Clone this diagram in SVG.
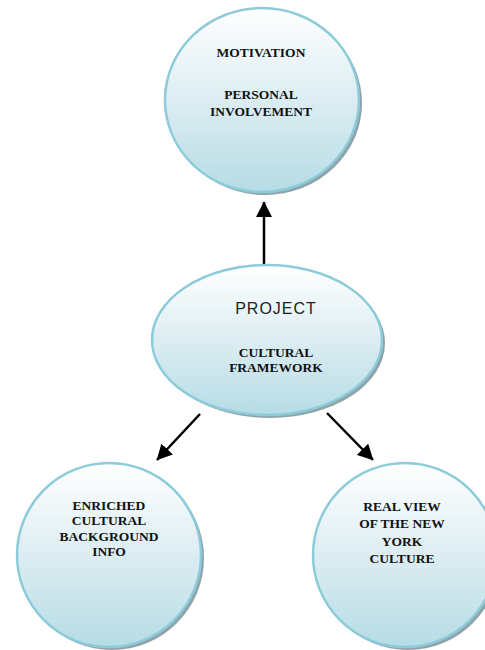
<svg xmlns="http://www.w3.org/2000/svg" width="485" height="650" viewBox="0 0 485 650">
<defs>
<linearGradient id="fill" x1="0" y1="0" x2="0" y2="1">
<stop offset="0" stop-color="#ffffff"/>
<stop offset="0.5" stop-color="#dcedf2"/>
<stop offset="1" stop-color="#b6dce5"/>
</linearGradient>
<marker id="ah" markerWidth="6.4" markerHeight="6.4" refX="6" refY="3.2" orient="auto" markerUnits="strokeWidth">
<path d="M0,0 L6.2,3.2 L0,6.4 Z" fill="#000"/>
</marker>
</defs>
<style>
.shadow{fill:#8fa3aa}
.body{fill:url(#fill);stroke:#8ccbd9;stroke-width:2.5}
.t{font-family:"Liberation Serif",serif;font-weight:bold;font-size:13.5px;fill:#111;text-anchor:middle}
.s{font-family:"Liberation Sans",sans-serif;font-size:16px;fill:#222;text-anchor:middle;letter-spacing:1px}
.c{stroke:#000;stroke-width:2.5;fill:none;marker-end:url(#ah)}
</style>
<rect width="485" height="650" fill="#fff"/>
<g id="connectors">
<line class="c" x1="264" y1="265" x2="264" y2="202"/>
<line class="c" x1="200" y1="414" x2="157" y2="460"/>
<line class="c" x1="327" y1="413" x2="373" y2="460"/>
</g>
<g id="motivation">
<ellipse class="shadow" cx="265" cy="103" rx="97" ry="92"/>
<ellipse class="body" cx="262" cy="100" rx="97" ry="92"/>
<text class="t" x="261" y="57">MOTIVATION</text>
<text class="t" x="261" y="99">PERSONAL</text>
<text class="t" x="261" y="116">INVOLVEMENT</text>
</g>
<g id="project">
<ellipse class="shadow" cx="270" cy="343" rx="115" ry="75"/>
<ellipse class="body" cx="267" cy="340" rx="115" ry="75"/>
<text class="s" x="276" y="314">PROJECT</text>
<text class="t" x="276" y="357">CULTURAL</text>
<text class="t" x="276" y="372">FRAMEWORK</text>
</g>
<g id="enriched">
<ellipse class="shadow" cx="112" cy="558" rx="92" ry="92"/>
<ellipse class="body" cx="109" cy="555" rx="92" ry="92"/>
<text class="t" x="109" y="510">ENRICHED</text>
<text class="t" x="109" y="525">CULTURAL</text>
<text class="t" x="109" y="541">BACKGROUND</text>
<text class="t" x="109" y="556">INFO</text>
</g>
<g id="realview">
<ellipse class="shadow" cx="408" cy="558" rx="92" ry="92"/>
<ellipse class="body" cx="405" cy="555" rx="92" ry="92"/>
<text class="t" x="402" y="511">REAL VIEW</text>
<text class="t" x="402" y="528">OF THE NEW</text>
<text class="t" x="402" y="546">YORK</text>
<text class="t" x="402" y="563">CULTURE</text>
</g>
</svg>
